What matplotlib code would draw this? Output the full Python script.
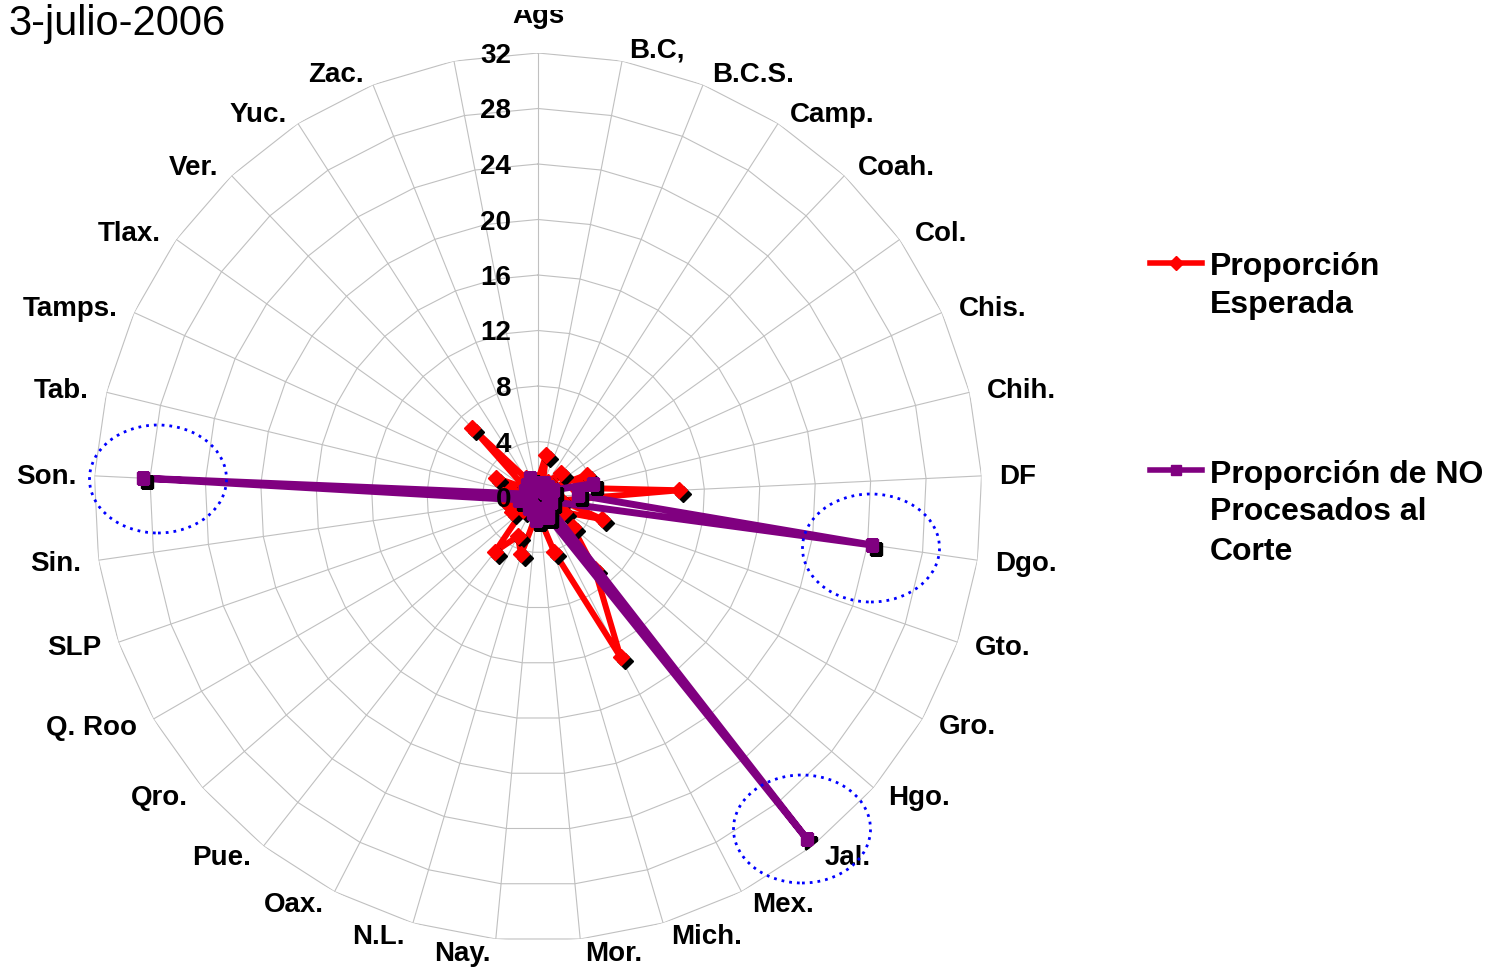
import numpy as np
import matplotlib
matplotlib.use("Agg")
import matplotlib.pyplot as plt
from matplotlib.patches import Ellipse
from matplotlib.lines import Line2D
from matplotlib.transforms import ScaledTranslation, Bbox

plt.rcParams['font.family'] = ['Liberation Sans', 'DejaVu Sans']

# categorias (la ultima va sin etiqueta)
estados = ['Ags', 'B.C,', 'B.C.S.', 'Camp.', 'Coah.', 'Col.', 'Chis.', 'Chih.',
           'DF', 'Dgo.', 'Gto.', 'Gro.', 'Hgo.', 'Jal.', 'Mex.', 'Mich.', 'Mor.',
           'Nay.', 'N.L.', 'Oax.', 'Pue.', 'Qro.', 'Q. Roo', 'SLP', 'Sin.', 'Son.',
           'Tab.', 'Tamps.', 'Tlax.', 'Ver.', 'Yuc.', 'Zac.', '']

esperada = [1.2, 3.1, 0.9, 1.3, 2.4, 1.0, 3.85, 2.8, 10.2, 1.7, 4.9, 2.2, 3.3,
            6.6, 13.0, 4.1, 1.6, 1.3, 4.3, 3.2, 5.0, 1.4, 2.2, 2.0, 2.3, 2.5,
            1.9, 3.3, 1.1, 6.9, 1.6, 1.3, 0.5]

no_procesados = [0.7, 1.0, 1.1, 0.8, 1.0, 0.6, 1.2, 4.1, 2.9, 24.3, 1.0, 0.8,
                 1.0, 31.4, 1.6, 0.9, 1.2, 1.7, 1.2, 0.8, 1.0, 0.7, 0.6, 0.8,
                 1.4, 28.5, 0.9, 1.0, 0.6, 1.2, 0.8, 1.5, 0.5]

ticks = [0, 4, 8, 12, 16, 20, 24, 28, 32]

W, H = 1501, 967
fx = lambda x: x / W
fy = lambda y: 1 - y / H

fig = plt.figure(figsize=(W / 100, H / 100), dpi=100)
ax = fig.add_axes([fx(94), 26 / H, 888 / W, 888 / H], projection='polar')
ax.set_theta_zero_location('N')
ax.set_theta_direction(-1)
ax.set_ylim(0, 32)
ax.set_xticks([])
ax.set_yticks([])
ax.grid(False)
ax.spines['polar'].set_visible(False)

n = len(estados)
theta = np.arange(n) * 2 * np.pi / n
tc = np.append(theta, theta[0])

# rejilla poligonal
for r in ticks[1:]:
    ax.plot(tc, [r] * (n + 1), color='#c0c0c0', lw=0.8, zorder=1)
for t in theta:
    ax.plot([t, t], [0, 32], color='#c0c0c0', lw=0.8, zorder=1)

sombra = ax.transData + ScaledTranslation(4 / 100, -4 / 100, fig.dpi_scale_trans)

e = np.append(esperada, esperada[0])
p = np.append(no_procesados, no_procesados[0])

ax.plot(tc, e, color='#ff0000', lw=4.3, zorder=3, solid_joinstyle='round')
ax.plot(tc, e, ls='none', marker='D', ms=8.5, color='black', transform=sombra, zorder=3.5)
ax.plot(tc, e, ls='none', marker='D', ms=8.5, color='#ff0000', zorder=4)

ax.plot(tc, p, color='#800080', lw=5, zorder=5, solid_joinstyle='round')
ax.plot(tc, p, ls='none', marker='s', ms=8.5, color='black', transform=sombra, zorder=5.5)
ax.plot(tc, p, ls='none', marker='s', ms=8.5, color='#800080', zorder=6)

# etiquetas de las categorias
for t, lab in zip(theta, estados):
    if not lab:
        continue
    s, c = np.sin(t), np.cos(t)
    if abs(s) < 0.05:
        txt = ax.annotate(lab, xy=(t, 32), xytext=(0, 30), textcoords='offset pixels',
                          ha='center', va='baseline', fontsize=20, fontweight='bold',
                          annotation_clip=False, zorder=10)
        txt.set_clip_box(Bbox([[0, 0], [W, H - 10]]))
        txt.set_clip_on(True)
        continue
    ha = 'left' if s > 0 else 'right'
    dx = np.sign(s) * (4 + 14 * abs(s))
    dy = 13 * c - 2
    ax.annotate(lab, xy=(t, 32), xytext=(dx, dy), textcoords='offset pixels',
                ha=ha, va='center', fontsize=20, fontweight='bold',
                annotation_clip=False, zorder=10)

# valores del eje
for v in ticks:
    ax.annotate(str(v), xy=(0, v), xytext=(-27, -3), textcoords='offset pixels',
                ha='right', va='center', fontsize=20, fontweight='bold',
                annotation_clip=False, zorder=10)

# circulos punteados
for cx, cy in [(158, 479), (871, 548), (802, 829)]:
    fig.add_artist(Ellipse((fx(cx), fy(cy)), 137 / W, 108 / H, transform=fig.transFigure,
                           fill=False, edgecolor='#0000ff', lw=2,
                           linestyle=(0, (1, 1.8)), zorder=20))

# leyenda
fig.add_artist(Line2D([fx(1150), fx(1202)], [fy(263), fy(263)], transform=fig.transFigure,
                      color='#ff0000', lw=4, zorder=20))
fig.add_artist(Line2D([fx(1176)], [fy(263)], transform=fig.transFigure,
                      color='#ff0000', marker='D', ms=7, ls='none', zorder=21))
fig.add_artist(Line2D([fx(1150), fx(1202)], [fy(470), fy(470)], transform=fig.transFigure,
                      color='#800080', lw=4, zorder=20))
fig.add_artist(Line2D([fx(1176)], [fy(470)], transform=fig.transFigure,
                      color='#800080', marker='s', ms=7, ls='none', zorder=21))

for y, s in [(264, 'Proporción'), (302, 'Esperada'),
             (471, 'Proporción de NO'), (509, 'Procesados al'), (548, 'Corte')]:
    fig.text(fx(1210), fy(y + 3.5), s, ha='left', va='center', fontsize=23,
             fontweight='bold')

fig.text(fx(8), fy(35), '3-julio-2006', ha='left', va='baseline', fontsize=30)

fig.savefig('out.png', dpi=100)
